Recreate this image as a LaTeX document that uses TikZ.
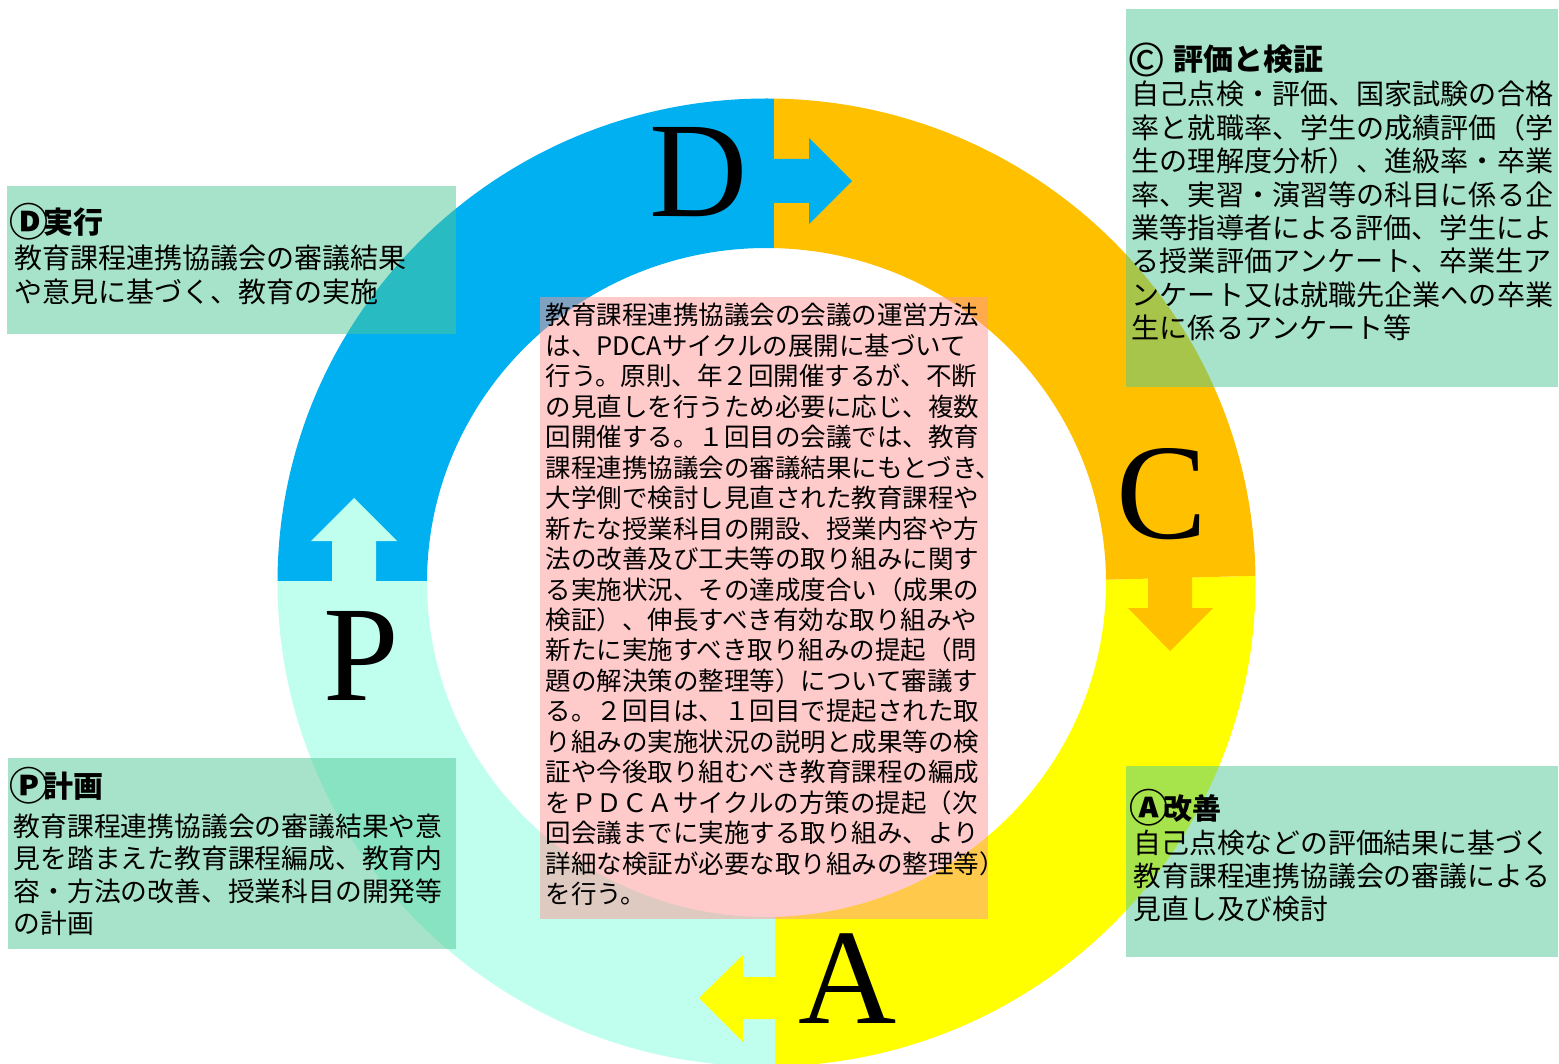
\documentclass[tikz,border=0pt]{standalone}
\usepackage{fontspec}
\newfontfamily\jp{Noto Sans CJK JP}
\newfontfamily\serifL{Liberation Serif}
\definecolor{dblue}{RGB}{0,176,240}
\definecolor{corange}{RGB}{255,192,0}
\definecolor{ayellow}{RGB}{255,255,0}
\definecolor{pcyan}{RGB}{192,255,238}
\definecolor{boxgreen}{RGB}{80,200,150}
\definecolor{boxpink}{RGB}{255,150,150}
\newcommand\jl[1]{\hbox{#1}}
\newcommand\circlet[1]{\makebox[30pt][c]{\fontsize{39pt}{39pt}\selectfont\bfseries\raisebox{-3.3pt}{#1}}}
\newcommand\copysym{\makebox[30pt][c]{\fontsize{46pt}{46pt}\selectfont\mdseries\raisebox{-5.5pt}{©}}}
\begin{document}
\begin{tikzpicture}[x=1pt,y=-1pt,
  gbox/.style={fill=boxgreen, fill opacity=0.5, draw=none},
  pbox/.style={fill=boxpink, fill opacity=0.5, draw=none},
  txt/.style={inner sep=0pt, anchor=base west, text=black, font=\jp},
  bigletter/.style={inner sep=0pt, anchor=base, text=black, font=\serifL\fontsize{136pt}{136pt}\selectfont},
  ringpath/.style={even odd rule}
]
\useasboundingbox (0,0) rectangle (1559,1064);
\fill[white] (0,0) rectangle (1559,1064);
\coordinate (ctr) at (766.5,582.5);
% ring quadrants
\begin{scope}
  \clip (0,580.5) rectangle (775,1200);
  \fill[pcyan, ringpath] (ctr) ellipse[x radius=489pt, y radius=484pt] (ctr) ellipse[x radius=339.5pt, y radius=334.5pt];
\end{scope}
\begin{scope}
  \clip (0,0) rectangle (774,580.5);
  \fill[dblue, ringpath] (ctr) ellipse[x radius=489pt, y radius=484pt] (ctr) ellipse[x radius=339.5pt, y radius=334.5pt];
\end{scope}
\begin{scope}
  \clip (775,1200) -- (1600,1200) -- (1600,566.8) -- (775,588.4) -- cycle;
  \fill[ayellow, ringpath] (ctr) ellipse[x radius=489pt, y radius=484pt] (ctr) ellipse[x radius=339.5pt, y radius=334.5pt];
\end{scope}
\begin{scope}
  \clip (774,0) -- (1600,0) -- (1600,566.8) -- (774,588.4) -- cycle;
  \fill[corange, ringpath] (ctr) ellipse[x radius=489pt, y radius=484pt] (ctr) ellipse[x radius=339.5pt, y radius=334.5pt];
\end{scope}
% block arrows
\fill[dblue] (772,159) -- (809,159) -- (809,138) -- (852,181) -- (809,224) -- (809,203) -- (772,203) -- cycle;
\fill[corange] (1148,570) -- (1148,608) -- (1128,608) -- (1170,651) -- (1213,608) -- (1192,608) -- (1192,570) -- cycle;
\fill[ayellow] (777,977) -- (743,977) -- (743,955) -- (699,998) -- (743,1042) -- (743,1019) -- (777,1019) -- cycle;
\fill[pcyan] (332,582) -- (332,541) -- (311,541) -- (354,498) -- (397,541) -- (376,541) -- (376,582) -- cycle;
% big letters
\node[bigletter] (letD) at (699,217) {D};
\node[bigletter] (letC) at (1162,538) {C};
\node[bigletter] (letA) at (848,1023) {A};
\node[bigletter] (letP) at (361,700) {P};
% boxes
\fill[gbox] (7,186) rectangle (456,334);
\fill[gbox] (1126,9) rectangle (1558,387);
\fill[gbox] (8,758) rectangle (456,949);
\fill[gbox] (1126,766) rectangle (1558,957);
\fill[pbox] (540,297) rectangle (988,919);
% D box
\node[txt] (dhead) at (13.5,233.5) {\fontsize{30pt}{36pt}\selectfont\bfseries\circlet{Ⓓ}実行};
\node[txt] (dtext) at (14.5,269) {\fontsize{28pt}{33.3pt}\selectfont\vtop{%
\jl{教育課程連携協議会の審議結果}%
\jl{や意見に基づく、教育の実施}}};
% C box
\node[txt] (chead) at (1131.5,71) {\fontsize{30pt}{36pt}\selectfont\bfseries\copysym\hspace{12pt}評価と検証};
\node[txt] (ctext) at (1131.5,105) {\fontsize{28.1pt}{33.4pt}\selectfont\vtop{%
\jl{自己点検・評価、国家試験の合格}%
\jl{率と就職率、学生の成績評価（学}%
\jl{生の理解度分析）、進級率・卒業}%
\jl{率、実習・演習等の科目に係る企}%
\jl{業等指導者による評価、学生によ}%
\jl{る授業評価アンケート、卒業生ア}%
\jl{ンケート又は就職先企業への卒業}%
\jl{生に係るアンケート等}}};
% P box
\node[txt] (phead) at (13.5,797.5) {\fontsize{30pt}{36pt}\selectfont\bfseries\circlet{Ⓟ}計画};
\node[txt] (ptext) at (13.5,836) {\fontsize{26.8pt}{32.6pt}\selectfont\vtop{%
\jl{教育課程連携協議会の審議結果や意}%
\jl{見を踏まえた教育課程編成、教育内}%
\jl{容・方法の改善、授業科目の開発等}%
\jl{の計画}}};
% A box
\node[txt] (ahead) at (1133.5,819) {\fontsize{29pt}{36pt}\selectfont\bfseries\circlet{Ⓐ}改善};
\node[txt] (atext) at (1133.5,853.5) {\fontsize{27.8pt}{33pt}\selectfont\vtop{%
\jl{自己点検などの評価結果に基づく}%
\jl{教育課程連携協議会の審議による}%
\jl{見直し及び検討}}};
% center box
\node[txt] (mtext) at (545.5,325) {\fontsize{25.5pt}{30.45pt}\selectfont\vtop{%
\jl{教育課程連携協議会の会議の運営方法}%
\jl{は、PDCAサイクルの展開に基づいて}%
\jl{行う。原則、年２回開催するが、不断}%
\jl{の見直しを行うため必要に応じ、複数}%
\jl{回開催する。１回目の会議では、教育}%
\jl{課程連携協議会の審議結果にもとづき、}%
\jl{大学側で検討し見直された教育課程や}%
\jl{新たな授業科目の開設、授業内容や方}%
\jl{法の改善及び工夫等の取り組みに関す}%
\jl{る実施状況、その達成度合い（成果の}%
\jl{検証）、伸長すべき有効な取り組みや}%
\jl{新たに実施すべき取り組みの提起（問}%
\jl{題の解決策の整理等）について審議す}%
\jl{る。２回目は、１回目で提起された取}%
\jl{り組みの実施状況の説明と成果等の検}%
\jl{証や今後取り組むべき教育課程の編成}%
\jl{をＰＤＣＡサイクルの方策の提起（次}%
\jl{回会議までに実施する取り組み、より}%
\jl{詳細な検証が必要な取り組みの整理等）}%
\jl{を行う。}}};
\end{tikzpicture}
\end{document}
